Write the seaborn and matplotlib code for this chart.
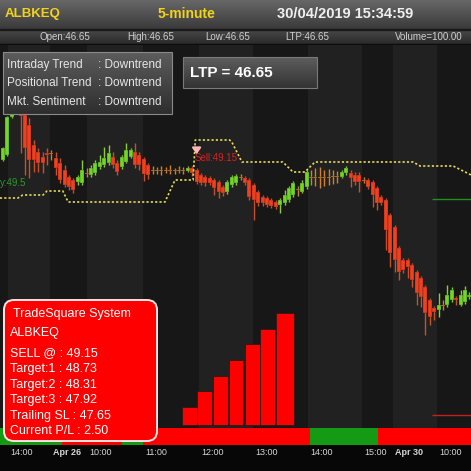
import numpy as np
import matplotlib
matplotlib.use("Agg")
import matplotlib.pyplot as plt
import matplotlib.colors as mcolors
import matplotlib.transforms as mtransforms
from matplotlib.patches import FancyBboxPatch, Rectangle
import seaborn as sns

# ---- data ----
symbol = "ALBKEQ"
interval = "5-minute"
stamp = "30/04/2019 15:34:59"
quote_names = ["Open", "High", "Low", "LTP"]
quote_values = [46.65, 46.65, 46.65, 46.65]
volume = 100.00
ltp = 46.65

trend_names = ["Intraday Trend", "Positional Trend", "Mkt. Sentiment"]
trend_values = ["Downtrend", "Downtrend", "Downtrend"]

opens = [49.35, 49.45, 50.21, 50.59, 50.47, 50.25, 50.05, 49.65, 49.51, 49.41,
         49.49, 49.49, 49.39, 49.29, 49.15, 49.01, 48.95, 48.91, 48.89, 49.07,
         49.05, 49.09, 49.21, 49.25, 49.29, 49.41, 49.29, 49.21, 49.31, 49.41,
         49.51, 49.45, 49.37, 49.25, 49.15, 49.13, 49.15, 49.13, 49.15, 49.13,
         49.15, 49.13, 49.13, 49.19, 49.15, 49.05, 49.01, 48.99, 48.95, 48.91,
         48.81, 48.71, 48.85, 48.89, 49.01, 48.99, 48.95, 48.85, 48.71, 48.61,
         48.59, 48.55, 48.51, 48.45, 48.49, 48.55, 48.65, 48.77, 48.71, 48.81,
         48.99, 49.01, 49.01, 48.99, 49.01, 49.01, 49.03, 49.01, 49.09, 49.09,
         49.05, 49.05, 48.95, 48.95, 48.91, 48.79, 48.61, 48.55, 48.25, 48.01,
         47.59, 47.35, 47.35, 47.25, 47.11, 46.99, 46.81, 46.55, 46.39, 46.35,
         46.43, 46.45, 46.55, 46.59, 46.45, 46.51, 46.61]
closes = [49.59, 50.21, 50.59, 50.47, 50.23, 49.59, 49.35, 49.35, 49.29, 49.29,
          49.45, 49.47, 49.19, 48.95, 48.85, 48.81, 48.75, 49.01, 49.15, 49.09,
          49.19, 49.29, 49.31, 49.39, 49.49, 49.25, 49.11, 49.41, 49.55, 49.55,
          49.25, 49.25, 49.07, 49.05, 49.13, 49.15, 49.13, 49.15, 49.13, 49.15,
          49.13, 49.15, 49.19, 49.09, 48.91, 48.89, 48.89, 48.89, 48.79, 48.71,
          48.69, 48.91, 49.01, 49.03, 48.99, 48.89, 48.61, 48.55, 48.49, 48.49,
          48.45, 48.43, 48.41, 48.55, 48.65, 48.79, 48.89, 48.75, 48.89, 49.11,
          49.01, 48.99, 48.99, 49.01, 48.99, 49.03, 49.01, 49.11, 49.19, 48.99,
          48.91, 48.91, 48.93, 48.81, 48.65, 48.49, 48.49, 47.95, 47.49, 47.35,
          47.11, 47.15, 47.21, 46.95, 46.69, 46.61, 46.29, 46.21, 46.31, 46.45,
          46.45, 46.65, 46.75, 46.55, 46.65, 46.75, 46.65]
highs = [49.61, 50.23, 50.71, 50.67, 50.51, 50.29, 50.19, 49.75, 49.59, 49.51,
         49.59, 49.55, 49.51, 49.39, 49.25, 49.05, 48.99, 49.05, 49.35, 49.19,
         49.25, 49.35, 49.45, 49.61, 49.65, 49.51, 49.35, 49.45, 49.69, 49.59,
         49.69, 49.51, 49.41, 49.29, 49.23, 49.21, 49.23, 49.21, 49.25, 49.19,
         49.23, 49.21, 49.23, 49.23, 49.19, 49.09, 49.05, 49.03, 48.99, 48.95,
         48.85, 48.95, 49.05, 49.07, 49.07, 49.03, 48.99, 48.89, 48.75, 48.65,
         48.63, 48.59, 48.55, 48.59, 48.75, 48.83, 48.93, 48.83, 48.95, 49.15,
         49.15, 49.19, 49.21, 49.15, 49.17, 49.15, 49.13, 49.15, 49.23, 49.15,
         49.11, 49.11, 49.01, 48.99, 48.95, 48.83, 48.65, 48.59, 48.29, 48.05,
         47.63, 47.39, 47.39, 47.29, 47.15, 47.03, 46.85, 46.59, 46.43, 46.69,
         46.55, 46.85, 46.81, 46.63, 46.75, 46.83, 46.71]
lows = [49.33, 49.43, 50.19, 50.39, 49.49, 49.05, 48.99, 49.11, 49.11, 49.09,
        49.25, 49.35, 49.05, 48.89, 48.81, 48.75, 48.69, 48.85, 48.85, 49.01,
        49.01, 49.05, 49.17, 49.21, 49.25, 49.19, 49.05, 49.17, 49.29, 49.39,
        49.19, 49.15, 48.93, 48.97, 49.07, 49.07, 49.05, 49.09, 49.07, 49.07,
        49.09, 49.07, 49.11, 49.03, 48.87, 48.85, 48.83, 48.85, 48.65, 48.59,
        48.63, 48.67, 48.81, 48.85, 48.95, 48.85, 48.55, 48.15, 48.43, 48.43,
        48.41, 48.39, 48.37, 48.29, 48.45, 48.51, 48.61, 48.63, 48.69, 48.77,
        48.85, 48.83, 48.79, 48.83, 48.85, 48.87, 48.89, 48.99, 49.05, 48.81,
        48.85, 48.71, 48.89, 48.77, 48.41, 48.35, 48.45, 47.55, 47.21, 47.11,
        46.95, 47.09, 46.99, 46.81, 46.45, 46.41, 45.85, 46.05, 46.15, 46.21,
        46.35, 46.41, 46.51, 46.45, 46.43, 46.47, 46.57]

# trailing stop (yellow dotted) vertices
stop_x = [-0.7, 3.4, 4.5, 9.1, 10.0, 13.6, 14.8, 36.8, 39.1, 43.2, 43.7, 51.5,
          52.0, 54.3, 63.6, 65.9, 68.6, 70.9, 93.2, 94.8, 102.3, 106.4]
stop_y = [48.59, 48.59, 48.65, 48.65, 48.73, 48.73, 48.51, 48.51, 48.95, 48.95,
          49.75, 49.75, 49.71, 49.31, 49.31, 49.11, 49.11, 49.31, 49.31, 49.23,
          49.23, 49.05]

tick_pos = [1.1, 10.7, 19.1, 31.8, 44.5, 56.8, 69.3, 81.6, 88.6, 98.6]
tick_labels = ["14:00", "Apr 26", "10:00", "11:00", "12:00", "13:00",
               "14:00", "15:00", "Apr 30", "10:00"]

strip_start = [-0.7, 13.4, 27.0, 31.8, 69.8, 85.2]
strip_end = [13.4, 27.0, 31.8, 69.8, 85.2, 106.4]
strip_signal = ["buy", "sell", "buy", "sell", "buy", "sell"]

pl_x = [42.4, 45.9, 49.4, 52.95, 56.6, 60.2, 64.1]
pl_h = [0.18, 0.34, 0.49, 0.65, 0.81, 0.96, 1.12]

sell_idx = 44
sell_price = 49.15
buy_price = 49.5
target_level = 48.57
stop_level = 44.25
level_start = 97.5

box_labels = ["SELL @", "Target:1", "Target:2", "Target:3", "Trailing SL", "Current P/L"]
box_values = [49.15, 48.73, 48.31, 47.92, 47.65, 2.50]

# ---- drawing ----
sns.set_style("dark")
plt.rcParams["font.family"] = ["Liberation Sans", "DejaVu Sans"]

W = H = 471
XL = (-0.68, 106.36)
fig = plt.figure(figsize=(4.71, 4.71), dpi=100, facecolor="#070707")


def grad(axx, x0, x1, y0, y1, c_top, c_bot, z=1):
    a = np.array(mcolors.to_rgb(c_top))
    b = np.array(mcolors.to_rgb(c_bot))
    t = np.linspace(0, 1, 64)[:, None]
    img = (a * (1 - t) + b * t)[:, None, :]
    axx.imshow(img, extent=(x0, x1, y1, y0), origin="upper", aspect="auto",
               zorder=z, interpolation="bilinear")


# background / header
bg = fig.add_axes([0, 0, 1, 1])
bg.set_facecolor("#070707")
grad(bg, 0, W, 0, 29, "#676767", "#3a3a3a")
grad(bg, 0, W, 29, 45, "#4a4a4a", "#282828")
bg.add_patch(Rectangle((0, 28.5), W, 1.2, color="#1a1a1a", zorder=2))
bg.add_patch(Rectangle((0, 44), W, 1.2, color="#0c0c0c", zorder=2))
bg.text(5, 14.5, symbol, color="#f2d21a", fontsize=9.5, fontweight="bold", va="center", zorder=3)
bg.text(158, 14.5, interval, color="#f2d21a", fontsize=10, fontweight="bold", va="center", zorder=3)
bg.text(277, 14.5, stamp, color="#f0f0f0", fontsize=10.5, fontweight="bold", va="center", zorder=3)
for xp, nm, v in zip([40, 127, 205, 285], quote_names, quote_values):
    bg.text(xp, 37, f"{nm}:{v:.2f}", color="#d0d0d0", fontsize=7, va="center", zorder=3)
bg.text(463, 37, f"Volume={volume:.2f}", color="#d0d0d0", fontsize=7, va="center", ha="right", zorder=3)
bg.set_xlim(0, W)
bg.set_ylim(H, 0)
bg.axis("off")

# main price chart
ax = fig.add_axes([0, (H - 428) / H, 1, (428 - 45) / H])
ax.set_zorder(1)
ax.set_facecolor("#1c1c1c")
bounds = [XL[0]] + tick_pos + [XL[1]]
for i in range(len(bounds) - 1):
    ax.axvspan(bounds[i], bounds[i + 1], color="#171717" if i % 2 == 0 else "#212121", lw=0, zorder=0)

x = np.arange(len(opens))
o = np.array(opens)
c = np.array(closes)
diff = c - o
small = np.abs(diff) < 0.03
body_col = np.where(small, "#e8902c", np.where(diff > 0, "#72d62a", "#f0401e"))
wick_col = np.where(small, "#d08030", np.where(diff > 0, "#8ccc3a", "#c8502a"))
ax.vlines(x, lows, highs, colors=wick_col, lw=1.0, zorder=2)
hgt = np.maximum(np.abs(diff), 0.035)
ax.bar(x, hgt, bottom=np.minimum(o, c) - (hgt - np.abs(diff)) / 2, width=0.9,
       color=body_col, edgecolor="#1a1a1a", lw=0.2, zorder=3)

sns.lineplot(x=stop_x, y=stop_y, ax=ax, color="#e6dc5a", lw=1.2,
             linestyle=(0, (1.3, 1.3)), estimator=None, sort=False, zorder=4)

ax.hlines(target_level, level_start, XL[1], colors="#1f8f1f", lw=1, zorder=4)
ax.hlines(stop_level, level_start, XL[1], colors="#c42020", lw=1, zorder=4)

ax.text(-0.6, 48.89, f"y:{buy_price}", color="#2a9a2a", fontsize=7, va="center", zorder=5)
ax.text(43.6, 49.39, f"Sell:{sell_price:.2f}", color="#dd2020", fontsize=7, va="center", zorder=5)
ax.annotate("", xy=(sell_idx, 49.41), xytext=(sell_idx, 49.63),
            arrowprops=dict(arrowstyle="-|>,head_width=0.25,head_length=0.35",
                            color="#ffb8b8", lw=1.6), zorder=5)

ax.set_xlim(*XL)
ax.set_ylim(43.99, 51.65)
ax.set_xticks([])
ax.set_yticks([])
ax.set_xlabel("")
ax.set_ylabel("")
ax.grid(False)
for s in ax.spines.values():
    s.set_visible(False)

# P/L histogram overlay
ax2 = ax.twinx()
ax2.set_zorder(2)
ax2.patch.set_visible(False)
ax2.bar(pl_x, pl_h, width=[3.4] * 6 + [4.1], color="#ff0000", edgecolor="#1a1a1a", lw=0.5)
ax2.set_ylim(-0.03, 3.80)
ax2.set_xlim(*XL)
ax2.set_yticks([])
ax2.grid(False)
for s in ax2.spines.values():
    s.set_visible(False)

# signal strip + time axis
sa = fig.add_axes([0, (H - 445) / H, 1, 17 / H])
sa.set_facecolor("#070707")
sa.bar(strip_start, 1, width=np.subtract(strip_end, strip_start), align="edge",
       color=["#149a14" if s == "buy" else "#ff0000" for s in strip_signal], lw=0)
sa.set_xlim(*XL)
sa.set_ylim(0, 1)
sa.set_yticks([])
sa.set_xticks(tick_pos)
sa.set_xticklabels(tick_labels)
sa.tick_params(axis="x", direction="out", length=4, width=0.6, pad=-2,
               color="#9a9a9a", labelcolor="#d6d6d6", labelsize=6.5)
sa.grid(False)
for s in sa.spines.values():
    s.set_visible(False)
offset = mtransforms.ScaledTranslation(2.5 / 100, 0, fig.dpi_scale_trans)
for lab in sa.get_xticklabels():
    lab.set_ha("left")
    lab.set_transform(lab.get_transform() + offset)
    if lab.get_text().startswith("Apr"):
        lab.set_fontweight("bold")

# overlay boxes
ov = fig.add_axes([0, 0, 1, 1])
ov.set_zorder(5)
ov.patch.set_alpha(0)
grad(ov, 3, 172, 52, 114, "#5c5c5c", "#2e2e2e")
ov.add_patch(Rectangle((3, 52), 169, 62, fill=False, ec="#8a8a8a", lw=0.8, zorder=2))
for yp, nm, v in zip([65, 83.5, 102], trend_names, trend_values):
    ov.text(7, yp, nm, color="#e6e6e6", fontsize=8.5, va="center", zorder=3)
    ov.text(98, yp, f": {v}", color="#e6e6e6", fontsize=8.5, va="center", zorder=3)

grad(ov, 183, 317, 57, 88, "#5e5e5e", "#333333")
ov.add_patch(Rectangle((183, 57), 134, 31, fill=False, ec="#7a7a7a", lw=0.8, zorder=2))
ov.text(190, 73, f"LTP = {ltp:.2f}", color="white", fontsize=11, fontweight="bold", va="center", zorder=3)

ov.add_patch(FancyBboxPatch((4, 300), 153, 141, boxstyle="round,pad=0,rounding_size=10",
                            fc="#ff0000", ec="#ffe4e4", lw=1.4, zorder=2))
ov.text(13, 314, "TradeSquare System", color="white", fontsize=9, va="center", zorder=3)
ov.text(10, 333, symbol, color="white", fontsize=9, va="center", zorder=3)
for yp, nm, v in zip([353, 369, 385, 400, 416, 431], box_labels, box_values):
    ov.text(10, yp, f"{nm} : {v:.2f}", color="white", fontsize=9, va="center", zorder=3)
ov.set_xlim(0, W)
ov.set_ylim(H, 0)
ov.axis("off")

fig.savefig("out.png", dpi=100, facecolor=fig.get_facecolor())
